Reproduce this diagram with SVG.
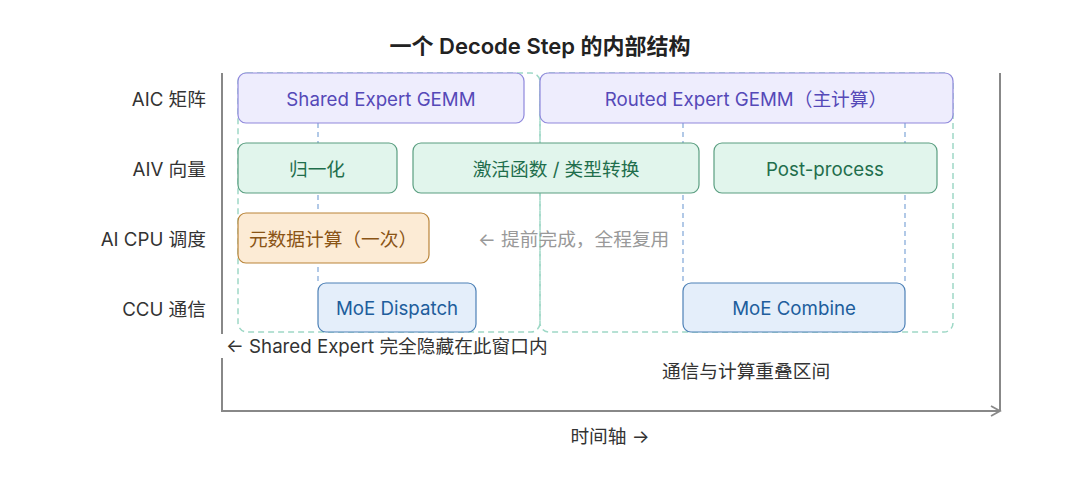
<svg xmlns="http://www.w3.org/2000/svg" width="1080" height="492" viewBox="0 0 1080 492">
<defs>
<style>
text{font-family:"Inter","Noto Sans CJK SC",sans-serif;font-size:18.7px;dominant-baseline:central}
.row{fill:#333;text-anchor:end}
.c{text-anchor:middle}
.aic rect{fill:#eeedfd;stroke:#8f88dc;stroke-width:1.2}
.aic text{fill:#5549b8}
.aiv rect{fill:#e1f5ec;stroke:#5a9e80;stroke-width:1.2}
.aiv text{fill:#1f6e4c}
.cpu rect{fill:#fcebd5;stroke:#b98439;stroke-width:1.2}
.cpu text{fill:#8a5415}
.ccu rect{fill:#e4eefa;stroke:#4d80b6;stroke-width:1.2}
.ccu text{fill:#205d9c}
.win{fill:none;stroke:#9ed8c6;stroke-width:1.5;stroke-dasharray:6 4}
.vl{stroke:#7fa6d8;stroke-width:1.2;stroke-dasharray:5 4}
.axis{fill:none;stroke:#888;stroke-width:2}
</style>
<marker id="arr" viewBox="0 0 12 12" refX="10" refY="6" markerWidth="12" markerHeight="12" markerUnits="userSpaceOnUse" orient="auto">
<path d="M1,1 L10,6 L1,11" fill="none" stroke="#888" stroke-width="1.8"/>
</marker>
</defs>
<rect width="1080" height="492" fill="#fff"/>
<text x="540" y="46" class="c" style="font-size:22px;font-weight:600;fill:#222">一个 Decode Step 的内部结构</text>

<g id="row-labels">
<text x="206" y="99" class="row">AIC 矩阵</text>
<text x="206" y="169" class="row">AIV 向量</text>
<text x="206" y="239" class="row">AI CPU 调度</text>
<text x="206" y="309" class="row">CCU 通信</text>
</g>

<g id="axes">
<path class="axis" d="M222,73 V411 H1000" marker-end="url(#arr)"/>
<path class="axis" d="M1000,73 V411"/>
</g>

<g id="connectors">
<rect class="win" x="238" y="73" width="302" height="259" rx="9"/>
<rect class="win" x="540" y="73" width="413" height="259" rx="9"/>
<line class="vl" x1="318" y1="123" x2="318" y2="283"/>
<line class="vl" x1="683" y1="123" x2="683" y2="283"/>
<line class="vl" x1="905" y1="123" x2="905" y2="283"/>
</g>

<g id="shared-gemm" class="aic"><rect x="238" y="73" width="286" height="50" rx="8"/><text x="381" y="99" class="c">Shared Expert GEMM</text></g>
<g id="routed-gemm" class="aic"><rect x="540" y="73" width="413" height="50" rx="8"/><text x="746" y="99" class="c">Routed Expert GEMM（主计算）</text></g>
<g id="norm" class="aiv"><rect x="238" y="143" width="159" height="50" rx="8"/><text x="317" y="169" class="c">归一化</text></g>
<g id="act" class="aiv"><rect x="413" y="143" width="286" height="50" rx="8"/><text x="556" y="169" class="c">激活函数 / 类型转换</text></g>
<g id="post" class="aiv"><rect x="714" y="143" width="223" height="50" rx="8"/><text x="825" y="169" class="c">Post-process</text></g>
<g id="meta" class="cpu"><rect x="238" y="213" width="191" height="50" rx="8"/><text x="333" y="239" class="c">元数据计算（一次）</text></g>
<g id="dispatch" class="ccu"><rect x="318" y="283" width="158" height="49" rx="8"/><text x="397" y="308" class="c">MoE Dispatch</text></g>
<g id="combine" class="ccu"><rect x="683" y="283" width="222" height="49" rx="8"/><text x="794" y="308" class="c">MoE Combine</text></g>

<g id="notes">
<text x="478" y="239" style="fill:#999">← 提前完成，全程复用</text>
<rect x="220" y="334" width="338" height="24" fill="#fff"/>
<text x="226" y="346" style="fill:#333">← Shared Expert 完全隐藏在此窗口内</text>
<text x="746" y="371" class="c" style="fill:#333">通信与计算重叠区间</text>
<text x="610" y="436" class="c" style="fill:#333">时间轴 →</text>
</g>
</svg>
